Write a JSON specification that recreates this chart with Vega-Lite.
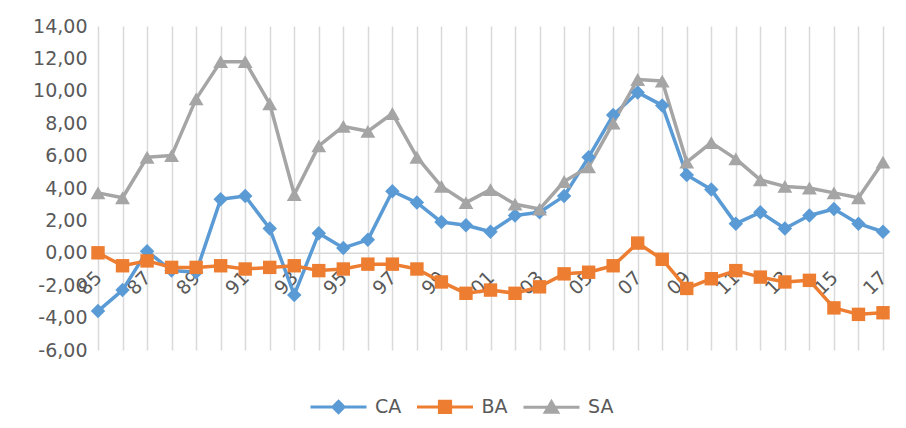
{
  "$schema": "https://vega.github.io/schema/vega-lite/v6.json",
  "width": 785,
  "height": 324,
  "autosize": {"type": "none"},
  "padding": {"left": 98, "top": 26, "right": 23, "bottom": 78},
  "background": "white",
  "config": {
    "locale": {"number": {"decimal": ",", "thousands": ".", "grouping": [3], "currency": ["", ""], "minus": "-"}},
    "view": {"stroke": null},
    "font": "DejaVu Sans"
  },
  "data": {"values": [
    {"year": "85", "CA": -3.6, "BA": 0.0, "SA": 3.7},
    {"year": "86", "CA": -2.3, "BA": -0.8, "SA": 3.4},
    {"year": "87", "CA": 0.1, "BA": -0.5, "SA": 5.9},
    {"year": "88", "CA": -1.1, "BA": -0.9, "SA": 6.0},
    {"year": "89", "CA": -1.2, "BA": -0.9, "SA": 9.5},
    {"year": "90", "CA": 3.3, "BA": -0.8, "SA": 11.8},
    {"year": "91", "CA": 3.5, "BA": -1.0, "SA": 11.8},
    {"year": "92", "CA": 1.5, "BA": -0.9, "SA": 9.2},
    {"year": "93", "CA": -2.6, "BA": -0.8, "SA": 3.6},
    {"year": "94", "CA": 1.2, "BA": -1.1, "SA": 6.6},
    {"year": "95", "CA": 0.3, "BA": -1.0, "SA": 7.8},
    {"year": "96", "CA": 0.8, "BA": -0.7, "SA": 7.5},
    {"year": "97", "CA": 3.8, "BA": -0.7, "SA": 8.6},
    {"year": "98", "CA": 3.1, "BA": -1.0, "SA": 5.9},
    {"year": "99", "CA": 1.9, "BA": -1.8, "SA": 4.1},
    {"year": "00", "CA": 1.7, "BA": -2.5, "SA": 3.1},
    {"year": "01", "CA": 1.3, "BA": -2.3, "SA": 3.9},
    {"year": "02", "CA": 2.3, "BA": -2.5, "SA": 3.0},
    {"year": "03", "CA": 2.5, "BA": -2.1, "SA": 2.7},
    {"year": "04", "CA": 3.5, "BA": -1.3, "SA": 4.4},
    {"year": "05", "CA": 5.9, "BA": -1.2, "SA": 5.3},
    {"year": "06", "CA": 8.5, "BA": -0.8, "SA": 8.0},
    {"year": "07", "CA": 9.9, "BA": 0.6, "SA": 10.7},
    {"year": "08", "CA": 9.1, "BA": -0.4, "SA": 10.6},
    {"year": "09", "CA": 4.8, "BA": -2.2, "SA": 5.6},
    {"year": "10", "CA": 3.9, "BA": -1.6, "SA": 6.8},
    {"year": "11", "CA": 1.8, "BA": -1.1, "SA": 5.8},
    {"year": "12", "CA": 2.5, "BA": -1.5, "SA": 4.5},
    {"year": "13", "CA": 1.5, "BA": -1.8, "SA": 4.1},
    {"year": "14", "CA": 2.3, "BA": -1.7, "SA": 4.0},
    {"year": "15", "CA": 2.7, "BA": -3.4, "SA": 3.7},
    {"year": "16", "CA": 1.8, "BA": -3.8, "SA": 3.4},
    {"year": "17", "CA": 1.3, "BA": -3.7, "SA": 5.6}
  ]},
  "transform": [{"fold": ["CA", "BA", "SA"], "as": ["series", "value"]}],
  "encoding": {
    "x": {
      "field": "year", "type": "ordinal", "sort": null,
      "scale": {"type": "point", "padding": 0},
      "axis": {
        "title": null,
        "labelExpr": "indexof(['85','87','89','91','93','95','97','99','01','03','05','07','09','11','13','15','17'], datum.value) >= 0 ? datum.label : ''",
        "labelAngle": -45, "labelAlign": "right", "labelBaseline": "top",
        "labelFontSize": 19, "labelColor": "#595959", "labelOverlap": false,
        "labelPadding": 15, "labelOffset": -6,
        "ticks": false, "domainColor": "#d9d9d9", "domainWidth": 1.5,
        "offset": -97.2,
        "grid": true, "gridColor": "#d9d9d9", "gridWidth": 1.5
      }
    },
    "y": {
      "field": "value", "type": "quantitative",
      "scale": {"domain": [-6, 14], "nice": false, "zero": false},
      "axis": {
        "title": null, "grid": false, "domain": false, "ticks": false,
        "values": [-6, -4, -2, 0, 2, 4, 6, 8, 10, 12, 14],
        "format": ".2f", "labelFontSize": 19, "labelColor": "#595959", "labelPadding": 11
      }
    }
  },
  "layer": [
    {
      "mark": {"type": "line", "strokeWidth": 3.5, "strokeJoin": "round"},
      "encoding": {
        "color": {
          "field": "series", "type": "nominal",
          "scale": {"domain": ["CA", "BA", "SA"], "range": ["#5b9bd5", "#ed7d31", "#a5a5a5"]},
          "legend": {
            "title": null, "orient": "none", "direction": "horizontal",
            "legendX": 211, "legendY": 351,
            "symbolSize": 3136, "labelFontSize": 19, "labelColor": "#595959",
            "labelOffset": 7, "columnPadding": 8.5, "padding": 0,
            "encode": {
              "symbols": {
                "update": {
                  "shape": {"signal": "datum.value === 'CA' ? 'M-1,0H1M0,-0.2L0.2,0L0,0.2L-0.2,0Z' : datum.value === 'BA' ? 'M-1,0H1M-0.2,-0.2H0.2V0.2H-0.2Z' : 'M-1,0H1M0,-0.2L0.22,0.17H-0.22Z'"},
                  "fill": {"signal": "scale('color', datum.value)"},
                  "stroke": {"signal": "scale('color', datum.value)"},
                  "strokeWidth": {"value": 3},
                  "opacity": {"value": 1},
                  "fillOpacity": {"value": 1}
                }
              }
            }
          }
        }
      }
    },
    {
      "transform": [{"filter": "datum.series === 'CA'"}],
      "mark": {"type": "point", "filled": true, "opacity": 1, "size": 210, "shape": "diamond", "color": "#5b9bd5"}
    },
    {
      "transform": [{"filter": "datum.series === 'BA'"}],
      "mark": {"type": "point", "filled": true, "opacity": 1, "size": 180, "shape": "square", "color": "#ed7d31"}
    },
    {
      "transform": [{"filter": "datum.series === 'SA'"}],
      "mark": {"type": "point", "filled": true, "opacity": 1, "size": 220, "shape": "triangle-up", "color": "#a5a5a5"}
    }
  ]
}
